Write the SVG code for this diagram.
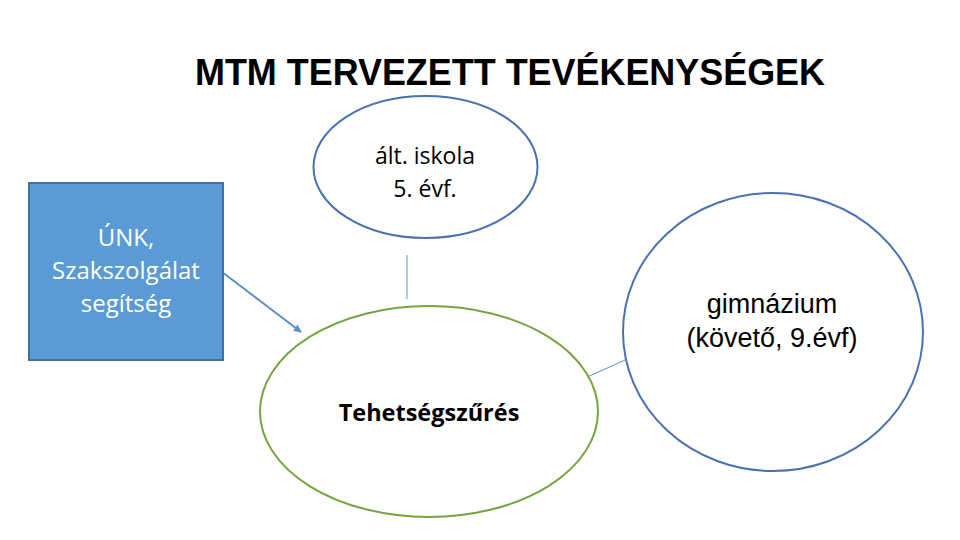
<svg xmlns="http://www.w3.org/2000/svg" width="960" height="540" viewBox="0 0 960 540">
<defs>
<style>
.blue{fill:#fff;stroke:#4A72B0;stroke-width:2}
.green{fill:#fff;stroke:#77A442;stroke-width:2}
.lbl{font-family:"Liberation Sans",Arial,sans-serif;font-size:27px;fill:#000;text-anchor:middle}
.cal{font-family:"Open Sans","Noto Sans",sans-serif;font-size:23px;text-anchor:middle}
.box{font-size:24px}
.con{stroke:#5B8FC7;stroke-width:1;fill:none}
.arr{stroke:#5B8FC7;stroke-width:2;fill:none}
</style>
<marker id="ah" viewBox="0 0 10 10" refX="9" refY="5" markerWidth="4" markerHeight="4" orient="auto">
<path d="M0,0 L10,5 L0,10 z" fill="#5B8FC7"/>
</marker>
</defs>
<rect width="960" height="540" fill="#fff"/>
<text x="510" y="85" font-family="'Liberation Sans',Arial,sans-serif" font-weight="bold" font-size="36" text-anchor="middle" textLength="630" lengthAdjust="spacingAndGlyphs">MTM TERVEZETT TEVÉKENYSÉGEK</text>
<g id="connectors">
<line class="con" x1="407" y1="255" x2="407" y2="299"/>
<line class="con" x1="585" y1="378" x2="625" y2="360"/>
<line class="arr" x1="222" y1="272" x2="301" y2="332" marker-end="url(#ah)"/>
</g>
<g id="node-unk">
<rect x="29" y="183" width="194" height="177" fill="#5B9BD5" stroke="#41719C" stroke-width="2"/>
<text class="cal box" fill="#fff" x="126" y="246">ÚNK,</text>
<text class="cal box" fill="#fff" x="126" y="279">Szakszolgálat</text>
<text class="cal box" fill="#fff" x="126" y="312">segítség</text>
</g>
<g id="node-alt">
<ellipse class="blue" cx="425.5" cy="167" rx="112" ry="71"/>
<text class="cal" fill="#000" x="425" y="164">ált. iskola</text>
<text class="cal" fill="#000" x="425" y="197">5. évf.</text>
</g>
<g id="node-gimn">
<ellipse class="blue" cx="773" cy="332" rx="150" ry="139"/>
<text class="lbl" x="772" y="313">gimnázium</text>
<text class="lbl" x="772" y="347">(követő, 9.évf)</text>
</g>
<g id="node-teh">
<ellipse class="green" cx="429" cy="411.5" rx="169" ry="105.5"/>
<text class="cal" fill="#000" font-weight="bold" x="429" y="421" style="font-size:23.5px">Tehetségszűrés</text>
</g>
</svg>
